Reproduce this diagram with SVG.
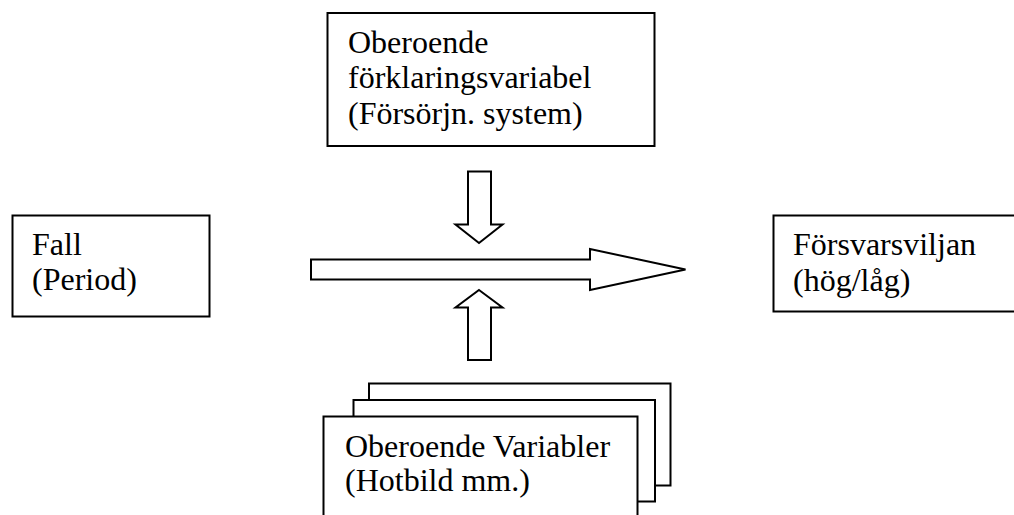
<svg xmlns="http://www.w3.org/2000/svg" width="1014" height="515" viewBox="0 0 1014 515">
<style>
.box{fill:#fff;stroke:#000;stroke-width:2}
.arr{fill:#fff;stroke:#000;stroke-width:2;stroke-linejoin:miter}
text{font-family:"Liberation Serif","Times New Roman",serif;font-size:32px;fill:#000}
</style>
<rect width="1014" height="515" fill="#fff"/>
<g id="node-top">
<rect class="box" x="327.5" y="13" width="327" height="133"/>
<text x="348" y="52.5">Oberoende</text>
<text x="348" y="88.2">förklaringsvariabel</text>
<text x="348" y="123.8">(Försörjn. system)</text>
</g>
<g id="node-fall">
<rect class="box" x="12.5" y="215.5" width="197" height="101"/>
<text x="32" y="255">Fall</text>
<text x="32" y="290">(Period)</text>
</g>
<g id="node-forsvar">
<rect class="box" x="773.5" y="215.5" width="250" height="96"/>
<text x="793" y="255">Försvarsviljan</text>
<text x="793" y="290.5">(hög/låg)</text>
</g>
<g id="node-variabler">
<rect class="box" x="369" y="383.5" width="301.5" height="102"/>
<rect class="box" x="353.5" y="400" width="301.5" height="101.5"/>
<rect class="box" x="323.5" y="416.5" width="314" height="110"/>
<text x="345" y="456.5">Oberoende Variabler</text>
<text x="345" y="491">(Hotbild mm.)</text>
</g>
<g id="connectors">
<polygon class="arr" points="311,259.5 590,259.5 590,249 685.5,269.5 590,290 590,279.5 311,279.5"/>
<polygon class="arr" points="468,171.5 491,171.5 491,224.5 502.5,224.5 479,243 455.5,224.5 468,224.5"/>
<polygon class="arr" points="479,290 502.5,307.5 491,307.5 491,360 468,360 468,307.5 455.5,307.5"/>
</g>
</svg>
